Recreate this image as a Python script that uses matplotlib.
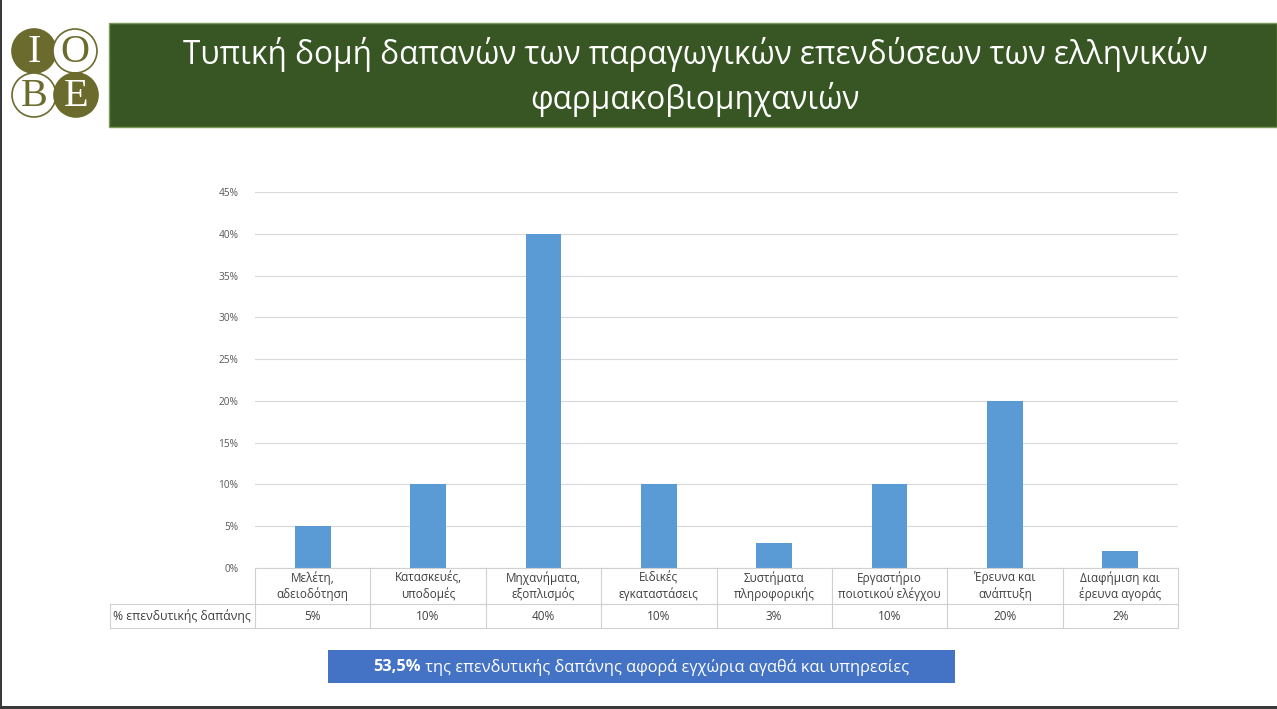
import matplotlib.pyplot as plt
from matplotlib.patches import Rectangle, Circle

plt.rcParams['font.family'] = ['Open Sans', 'DejaVu Sans']

categories = ["Μελέτη,\nαδειοδότηση", "Κατασκευές,\nυποδομές", "Μηχανήματα,\nεξοπλισμός",
              "Ειδικές\nεγκαταστάσεις", "Συστήματα\nπληροφορικής", "Εργαστήριο\nποιοτικού ελέγχου",
              "Έρευνα και\nανάπτυξη", "Διαφήμιση και\nέρευνα αγοράς"]
values = [5, 10, 40, 10, 3, 10, 20, 2]
value_labels = ["5%", "10%", "40%", "10%", "3%", "10%", "20%", "2%"]
yticks = [0, 5, 10, 15, 20, 25, 30, 35, 40, 45]
row_label = "% επενδυτικής δαπάνης"
title = "Τυπική δομή δαπανών των παραγωγικών επενδύσεων των ελληνικών\nφαρμακοβιομηχανιών"
note_bold = "53,5%"
note_rest = " της επενδυτικής δαπάνης αφορά εγχώρια αγαθά και υπηρεσίες"

W, H = 1277, 709
fig = plt.figure(figsize=(W / 100, H / 100), dpi=100)


def px_axes(x0, y0, x1, y1):
    # pixel box (top-left origin) -> figure axes
    return fig.add_axes([x0 / W, 1 - y1 / H, (x1 - x0) / W, (y1 - y0) / H])


# page frame: dark left edge and bottom band
bg = px_axes(0, 0, W, H)
bg.set_xlim(0, W)
bg.set_ylim(H, 0)
bg.axis("off")
bg.add_patch(Rectangle((0, 0), 2, H, color="#3a3a3a", lw=0))
bg.add_patch(Rectangle((0, 705.5), W, 4, color="#3a3a3a", lw=0))

# green title banner
bg.add_patch(Rectangle((109, 23), W - 109, 104, facecolor="#375623", edgecolor="#7a9a5a", lw=1))
bg.text(695, 77, title, color="white", fontsize=22.7, ha="center", va="center", linespacing=1.35)

# IOBE logo
olive = "#6b6b2e"
logo = [("I", 34, 51, True), ("O", 75, 51, False), ("B", 34, 95, False), ("E", 76, 95, True)]
for letter, cx, cy, filled in logo:
    bg.add_patch(Circle((cx, cy), 22, facecolor=olive if filled else "white",
                        edgecolor=olive, lw=1.2))
    bg.text(cx, cy + 1, letter, ha="center", va="center", fontsize=29,
            family=["Liberation Serif", "DejaVu Serif"], color="white" if filled else olive)

# bar chart
ax = px_axes(255, 192, 1178, 568)
x = list(range(len(categories)))
ax.bar(x, values, width=0.31, color="#5b9bd5", zorder=3)
ax.set_xlim(-0.5, len(categories) - 0.5)
ax.set_ylim(0, 45)
ax.set_yticks(yticks)
ax.set_yticklabels([f"{t}%" for t in yticks], fontsize=7.3, color="#595959")
ax.tick_params(axis="y", length=0, pad=12)
ax.set_xticks([])
ax.grid(axis="y", color="#d9d9d9", lw=0.8, zorder=0)
for s in ax.spines.values():
    s.set_visible(False)

# data table under chart
left_units = (255 - 110) / ((1178 - 255) / len(categories))
tb = px_axes(110, 568, 1178, 628)
tb.set_xlim(-0.5 - left_units, len(categories) - 0.5)
tb.set_ylim(2.5, 0)  # row 1 is 0..1.5, row 2 is 1.5..2.5
tb.axis("off")
line_c = "#d0d0d0"
xl, xr = -0.5 - left_units, len(categories) - 0.5
tb.plot([-0.5, xr], [0, 0], color=line_c, lw=0.8, clip_on=False)
tb.plot([xl, xr], [1.5, 1.5], color=line_c, lw=0.8, clip_on=False)
tb.plot([xl, xr], [2.5, 2.5], color=line_c, lw=0.8, clip_on=False)
tb.plot([xl, xl], [1.5, 2.5], color=line_c, lw=0.8, clip_on=False)
for i in range(len(categories) + 1):
    tb.plot([i - 0.5] * 2, [0, 2.5], color=line_c, lw=0.8, clip_on=False)
for i, (cat, lab) in enumerate(zip(categories, value_labels)):
    tb.text(i, 0.75, cat, ha="center", va="center", fontsize=8.5, color="#404040", linespacing=1.2)
    tb.text(i, 2.0, lab, ha="center", va="center", fontsize=8.5, color="#404040")
tb.text(xl + 0.03, 2.0, row_label, ha="left", va="center", fontsize=8.8, color="#404040")

# blue note box, text centred as one line with a bold start
bg.add_patch(Rectangle((328, 650), 627, 33, color="#4472c4", lw=0))
t1 = bg.text(0, H - 667, note_bold, color="white", fontsize=11.8, fontweight="bold",
             ha="left", va="center", transform=None)
t2 = bg.text(0, H - 667, note_rest, color="white", fontsize=11.8,
             ha="left", va="center", transform=None)
fig.canvas.draw()
w1 = t1.get_window_extent().width
w2 = t2.get_window_extent().width
start = 641.5 - (w1 + w2) / 2
t1.set_x(start)
t2.set_x(start + w1)

fig.savefig("out.png", dpi=100)
